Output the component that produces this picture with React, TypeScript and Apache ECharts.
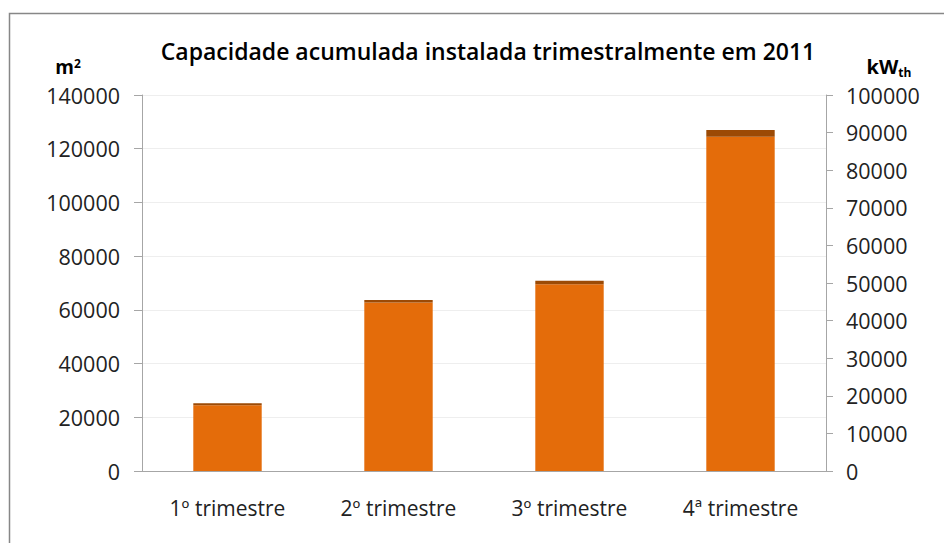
import React, { useEffect, useRef } from "react";
import * as echarts from "echarts";

const categories = ["1º trimestre", "2º trimestre", "3º trimestre", "4ª trimestre"];
const baseValues = [24500, 62700, 69500, 124500];
const capValues = [700, 1000, 1300, 2500];
const leftTicks = { min: 0, max: 140000, interval: 20000 };
const rightTicks = { min: 0, max: 100000, interval: 10000 };
const titleText = "Capacidade acumulada instalada trimestralmente em 2011";

const FONT = "'Open Sans', Lato, sans-serif";

export default function App() {
  const ref = useRef<HTMLDivElement>(null);
  useEffect(() => {
    document.body.style.margin = "0";
    const chart = echarts.init(ref.current!, null, { renderer: "svg" });
    const axisColor = "#A6A6A6";
    chart.setOption({
      animation: false,
      backgroundColor: "#ffffff",
      textStyle: { fontFamily: FONT },
      title: {
        text: titleText,
        left: 483,
        top: 34,
        textAlign: "center",
        textStyle: { fontFamily: FONT, fontWeight: 600, fontSize: 23, color: "#000" },
      },
      graphic: [
        {
          type: "rect",
          shape: { x: 9.5, y: 13.5, width: 1000, height: 600 },
          style: { fill: "none", stroke: "#878787", lineWidth: 1.5 },
          silent: true,
        },
        {
          type: "text",
          x: 68,
          y: 67,
          style: {
            text: "{b|m}{s|2}",
            rich: {
              b: { fontFamily: FONT, fontWeight: "bold", fontSize: 19, fill: "#000", lineHeight: 20 },
              s: { fontFamily: FONT, fontWeight: "bold", fontSize: 12, fill: "#000", verticalAlign: "top", lineHeight: 20, padding: [0, 0, 8, 0] },
            },
            align: "center",
            verticalAlign: "middle",
          },
        },
        {
          type: "text",
          x: 889,
          y: 66,
          style: {
            text: "{b|kW}{s|th}",
            rich: {
              b: { fontFamily: FONT, fontWeight: "bold", fontSize: 20, fill: "#000" },
              s: { fontFamily: FONT, fontWeight: "bold", fontSize: 12, fill: "#000", padding: [12, 0, 0, 0] },
            },
            align: "center",
            verticalAlign: "middle",
          },
        },
      ],
      grid: { left: 142, right: 118, top: 95, bottom: 72 },
      xAxis: [
        {
          type: "category",
          data: categories,
          axisLine: { show: true, lineStyle: { color: axisColor } },
          axisTick: { show: false },
          axisLabel: { color: "#222", fontSize: 21, fontFamily: FONT, margin: 26 },
        },
        {
          type: "category",
          position: "top",
          data: categories,
          axisLine: { show: true, lineStyle: { color: axisColor } },
          axisTick: { show: false },
          axisLabel: { show: false },
        },
      ],
      yAxis: [
        {
          type: "value",
          min: leftTicks.min,
          max: leftTicks.max,
          interval: leftTicks.interval,
          axisLine: { show: true, lineStyle: { color: axisColor } },
          axisTick: { show: true, length: 8, lineStyle: { color: axisColor } },
          splitLine: { show: true, lineStyle: { color: "#EEEEEE" } },
          axisLabel: { color: "#222", fontSize: 21.5, lineHeight: 22, fontFamily: FONT, margin: 22, formatter: (v: number) => String(v) },
        },
        {
          type: "value",
          position: "right",
          min: rightTicks.min,
          max: rightTicks.max,
          interval: rightTicks.interval,
          axisLine: { show: true, lineStyle: { color: axisColor } },
          axisTick: { show: true, length: 7, lineStyle: { color: axisColor } },
          splitLine: { show: false },
          axisLabel: { color: "#222", fontSize: 21.5, lineHeight: 22, fontFamily: FONT, margin: 20, formatter: (v: number) => String(v) },
        },
      ],
      series: [
        {
          type: "bar",
          stack: "total",
          data: baseValues,
          barWidth: "40%",
          itemStyle: { color: "#E46C0A" },
        },
        {
          type: "bar",
          stack: "total",
          data: capValues,
          barWidth: "40%",
          itemStyle: { color: "#9C4A05" },
        },
      ],
    });
    return () => chart.dispose();
  }, []);
  return <div ref={ref} style={{ width: 944, height: 543 }} />;
}
